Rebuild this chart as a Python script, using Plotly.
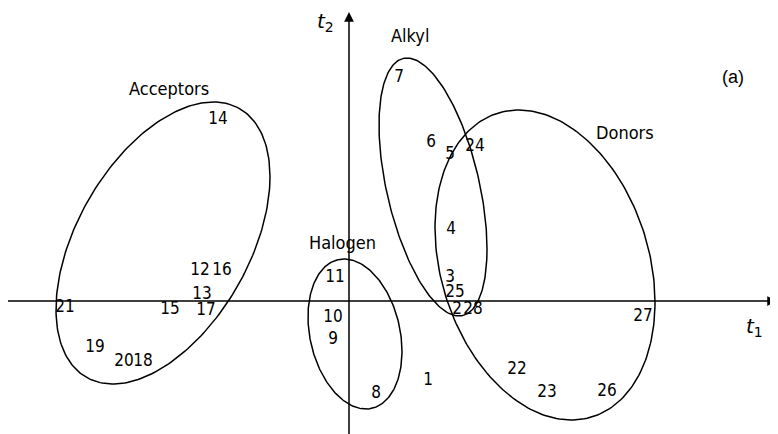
import numpy as np
import plotly.graph_objects as go

# compound numbers and their scores on the two components
labels = [str(i) for i in range(1, 29)]
t1 = [0.79, 1.08, 1.01, 1.02, 1.01, 0.82, 0.50, 0.27, -0.16, -0.16,
      -0.14, -1.49, -1.47, -1.31, -1.79, -1.27, -1.43, -2.06, -2.54, -2.25,
      -2.84, 1.68, 1.98, 1.26, 1.06, 2.58, 2.94, 1.24]
t2 = [-0.80, -0.09, 0.23, 0.71, 1.46, 1.58, 2.23, -0.93, -0.39, -0.17,
      0.23, 0.30, 0.06, 1.81, -0.09, 0.30, -0.10, -0.61, -0.47, -0.61,
      -0.07, -0.69, -0.92, 1.54, 0.08, -0.91, -0.16, -0.09]

# class regions: centre, half width, half height, tilt (cos of phase shift)
groups = ["Acceptors", "Halogen", "Alkyl", "Donors"]
grp_cx = [-1.86, 0.06, 0.84, 1.96]
grp_cy = [0.58, -0.33, 1.14, 0.36]
grp_hx = [1.07, 0.47, 0.54, 1.10]
grp_hy = [1.41, 0.75, 1.29, 1.55]
grp_tilt = [0.47, -0.23, -0.48, -0.24]
grp_lx = [-1.80, -0.07, 0.61, 2.76]
grp_ly = [2.13, 0.59, 2.66, 1.69]

FONT = "DejaVu Sans Condensed, Liberation Sans Narrow, sans-serif"

fig = go.Figure()

s = np.linspace(0, 2 * np.pi, 241)
for cx, cy, hx, hy, c in zip(grp_cx, grp_cy, grp_hx, grp_hy, grp_tilt):
    d = np.arccos(c)
    fig.add_trace(go.Scatter(x=cx + hx * np.cos(s), y=cy + hy * np.cos(s - d),
                             mode="lines", line=dict(color="black", width=1.5),
                             hoverinfo="skip", showlegend=False))

fig.add_trace(go.Scatter(x=t1, y=t2, mode="text", text=labels,
                         textfont=dict(family=FONT, size=17, color="black"),
                         showlegend=False))

for name, x, y in zip(groups, grp_lx, grp_ly):
    fig.add_annotation(x=x, y=y, text=name, showarrow=False,
                       font=dict(family=FONT, size=18, color="black"))

# axes through the origin with arrow heads
fig.add_annotation(x=4.28, y=0, ax=-3.45, ay=0, axref="x", ayref="y",
                   showarrow=True, arrowhead=2, arrowsize=1.3, arrowwidth=1.5,
                   arrowcolor="black", text="")
fig.add_annotation(x=0, y=2.89, ax=0, ay=-1.41, axref="x", ayref="y",
                   showarrow=True, arrowhead=2, arrowsize=1.3, arrowwidth=1.5,
                   arrowcolor="black", text="")

fig.add_annotation(x=-0.24, y=2.79, text="<i>t</i><sub>2</sub>", showarrow=False,
                   font=dict(family="DejaVu Sans, sans-serif", size=20, color="black"))
fig.add_annotation(x=4.05, y=-0.26, text="<i>t</i><sub>1</sub>", showarrow=False,
                   font=dict(family="DejaVu Sans, sans-serif", size=20, color="black"))
fig.add_annotation(x=3.84, y=2.24, text="(a)", showarrow=False,
                   font=dict(family="Liberation Sans, Arial, sans-serif", size=18, color="black"))

# page body has an 8px margin, so the ranges are shifted to keep the origin in place
fig.update_xaxes(range=[-3.41, 4.37], visible=False, fixedrange=True)
fig.update_yaxes(range=[-1.41, 2.93], visible=False, fixedrange=True)
fig.update_layout(width=778, height=434, margin=dict(l=0, r=0, t=0, b=0),
                  plot_bgcolor="white", paper_bgcolor="white")

fig.write_html("out.html")
